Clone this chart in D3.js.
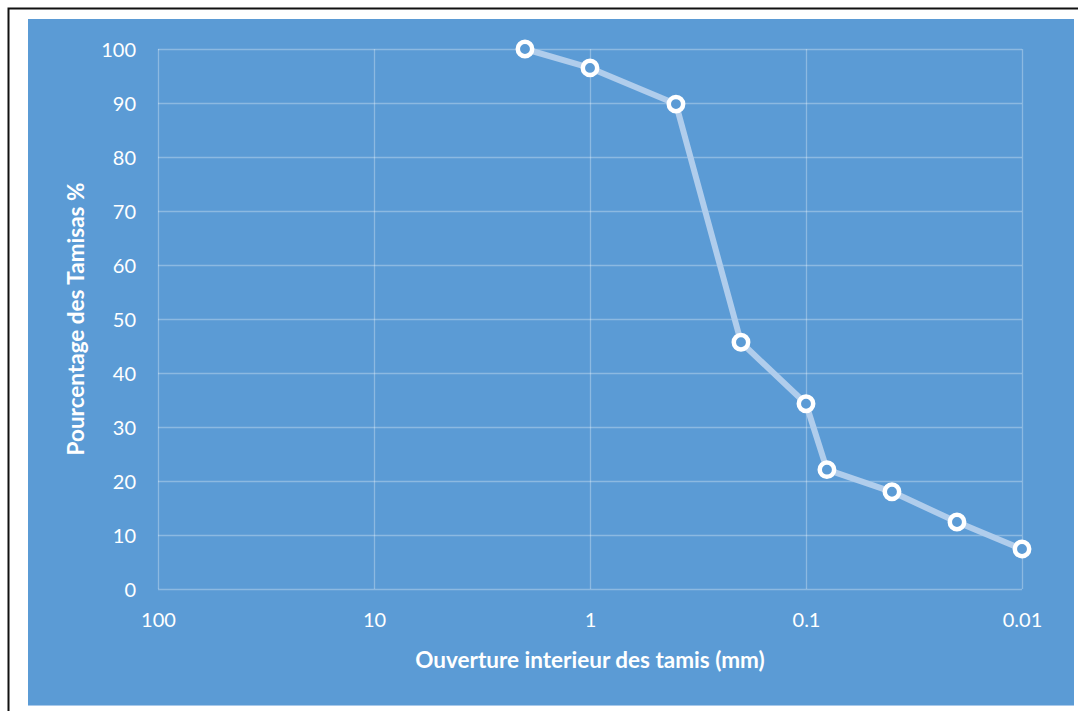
<!doctype html>
<html>
<head>
<meta charset="utf-8">
<title>Courbe granulometrique</title>
<script src="https://cdnjs.cloudflare.com/ajax/libs/d3/7.8.5/d3.min.js"></script>
<style>
    body { margin: 0; background: #ffffff; font-family: Lato, 'Open Sans', sans-serif; }
    .tick text { fill: #ffffff; font-size: 20px; font-family: Lato, sans-serif; }
    .tick line, .domain { display: none; }
</style>
</head>
<body>
<div id="chart"></div>
<script>
    // tamis (mm) et pourcentage des tamisats
    var openings = [2, 1, 0.4, 0.2, 0.1, 0.08, 0.04, 0.02, 0.01];
    var passing = [100, 96.5, 89.8, 45.7, 34.3, 22.1, 18.0, 12.4, 7.4];
    var xTicks = [100, 10, 1, 0.1, 0.01];
    var xTickLabels = ["100", "10", "1", "0.1", "0.01"];
    var yTicks = [0, 10, 20, 30, 40, 50, 60, 70, 80, 90, 100];

    var width = 1078, height = 711;
    var margin = { top: 49, right: 56, bottom: 122, left: 158 };

    var svg = d3.select("#chart").append("svg").attr("width", width).attr("height", height);

    // black frame + blue chart area
    svg.append("rect").attr("x", 8.5).attr("y", 8.5).attr("width", width).attr("height", height)
        .attr("fill", "#ffffff").attr("stroke", "#111").attr("stroke-width", 2);
    svg.append("rect").attr("x", 28).attr("y", 19).attr("width", 1046).attr("height", 687)
        .attr("fill", "#5b9bd5");
    svg.append("rect").attr("x", 28).attr("y", 705).attr("width", 1046).attr("height", 1)
        .attr("fill", "#a9c9ea");

    var xScale = d3.scaleLog().domain([100, 0.01]).range([margin.left, width - margin.right]);
    var yScale = d3.scaleLinear().domain([0, 100]).range([height - margin.bottom, margin.top]);

    // grid
    svg.append("g").selectAll("line").data(yTicks).join("line")
        .attr("x1", margin.left).attr("x2", width - margin.right)
        .attr("y1", d => Math.round(yScale(d)) + 0.5).attr("y2", d => Math.round(yScale(d)) + 0.5)
        .attr("stroke", "rgba(255,255,255,0.3)").attr("stroke-width", 1.3);
    svg.append("g").selectAll("line").data(xTicks).join("line")
        .attr("x1", d => Math.round(xScale(d)) + 0.5).attr("x2", d => Math.round(xScale(d)) + 0.5)
        .attr("y1", margin.top).attr("y2", height - margin.bottom)
        .attr("stroke", "rgba(255,255,255,0.3)").attr("stroke-width", 1.3);

    var xAxis = d3.axisBottom(xScale).tickValues(xTicks).tickFormat((d, i) => xTickLabels[i]).tickSize(0).tickPadding(0);
    var yAxis = d3.axisLeft(yScale).tickValues(yTicks).tickSize(0).tickPadding(22);

    svg.append("g").attr("class", "x-axis")
        .attr("transform", `translate(0,${height - margin.bottom + 24})`)
        .call(xAxis);
    svg.append("g").attr("class", "y-axis")
        .attr("transform", `translate(${margin.left},0)`)
        .call(yAxis);
    svg.selectAll(".y-axis .tick text").attr("dy", "0.36em");

    // axis titles
    svg.append("text").attr("x", (margin.left + width - margin.right) / 2).attr("y", 668)
        .attr("text-anchor", "middle").attr("fill", "#ffffff")
        .style("font-size", "22.5px").style("font-weight", "bold")
        .text("Ouverture interieur des tamis (mm)");
    svg.append("text").attr("transform", `translate(84,${(margin.top + height - margin.bottom) / 2}) rotate(-90)`)
        .attr("text-anchor", "middle").attr("fill", "#ffffff")
        .style("font-size", "22.5px").style("font-weight", "bold")
        .text("Pourcentage des Tamisas %");

    var pts = openings.map((d, i) => ({ x: d, y: passing[i] }));

    var line = d3.line().x(d => xScale(d.x)).y(d => yScale(d.y));
    svg.append("path").datum(pts).attr("d", line)
        .attr("fill", "none").attr("stroke", "#b0cdec").attr("stroke-width", 6)
        .attr("stroke-linejoin", "round");

    svg.append("g").selectAll("circle").data(pts).join("circle")
        .attr("cx", d => xScale(d.x)).attr("cy", d => yScale(d.y)).attr("r", 7.2)
        .attr("fill", "#5b9bd5").attr("stroke", "#ffffff").attr("stroke-width", 4.5);
</script>
</body>
</html>
